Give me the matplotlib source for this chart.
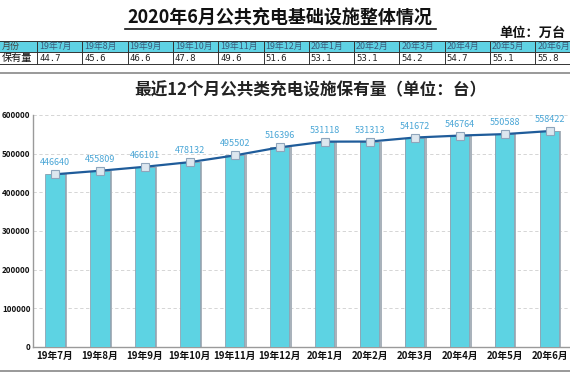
import matplotlib
matplotlib.use("Agg")
import matplotlib.pyplot as plt
from matplotlib.patches import Rectangle
from matplotlib.lines import Line2D

plt.rcParams['font.family'] = ['Noto Sans CJK SC', 'DejaVu Sans']

months = ["19年7月", "19年8月", "19年9月", "19年10月", "19年11月", "19年12月",
          "20年1月", "20年2月", "20年3月", "20年4月", "20年5月", "20年6月"]
table_values = ["44.7", "45.6", "46.6", "47.8", "49.6", "51.6",
                "53.1", "53.1", "54.2", "54.7", "55.1", "55.8"]
counts = [446640, 455809, 466101, 478132, 495502, 516396,
          531118, 531313, 541672, 546764, 550588, 558422]
yticks = [0, 100000, 200000, 300000, 400000, 500000, 600000]

W, H = 570, 380
fig = plt.figure(figsize=(W / 100, H / 100), dpi=100)
fig.patch.set_facecolor('white')


def fx(px):
    return px / W


def fy(py):
    return 1 - py / H


# Main title
fig.text(fx(280), fy(18), "2020年6月公共充电基础设施整体情况", ha='center', va='center',
         fontsize=13, fontweight='bold', color='#111111')
fig.add_artist(Line2D([fx(125), fx(436)], [fy(29), fy(29)], color='#111111', lw=1.2))
fig.text(fx(566), fy(33), "单位：万台", ha='right', va='center', fontsize=9.5,
         fontweight='bold', color='#111111')

# Table
col_x0 = 37
col_w = 45.3
hdr_top, hdr_bot, val_bot = 41, 52, 64
fig.add_artist(Rectangle((fx(-5), fy(hdr_bot)), fx(W + 10), (hdr_bot - hdr_top) / H,
                         facecolor='#5fd2e4', edgecolor='none'))
for yy in (hdr_top, hdr_bot, val_bot):
    fig.add_artist(Line2D([0, 1], [fy(yy), fy(yy)], color='#333333', lw=0.7))
for i in range(13):
    xx = col_x0 + i * col_w
    fig.add_artist(Line2D([fx(xx), fx(xx)], [fy(hdr_top), fy(val_bot)], color='#333333', lw=0.7))
fig.text(fx(2), fy((hdr_top + hdr_bot) / 2), "月份", ha='left', va='center',
         fontsize=6.5, color='#444444')
fig.text(fx(2), fy((hdr_bot + val_bot) / 2), "保有量", ha='left', va='center',
         fontsize=7.3, color='#111111')
for i, (m, v) in enumerate(zip(months, table_values)):
    xx = col_x0 + i * col_w + 2
    fig.text(fx(xx), fy((hdr_top + hdr_bot) / 2), m, ha='left', va='center',
             fontsize=6.4, color='#3a5a7a')
    fig.text(fx(xx), fy((hdr_bot + val_bot) / 2 + 0.5), v, ha='left', va='center',
             fontsize=6.5, color='#222222', family=['DejaVu Sans Mono'])

# separator lines
fig.add_artist(Line2D([0, 1], [fy(73), fy(73)], color='#888888', lw=1.2))
fig.add_artist(Line2D([0, 1], [fy(371), fy(371)], color='#888888', lw=1.2))

# Chart title
fig.text(fx(310), fy(90), "最近12个月公共类充电设施保有量（单位：台）", ha='center', va='center',
         fontsize=12, fontweight='bold', color='#222222')

# Chart axes
left_px, right_px = 32.5, 572
top_px, bot_px = 115, 347
ax = fig.add_axes([fx(left_px), fy(bot_px), (right_px - left_px) / W, (bot_px - top_px) / H])
ax.set_facecolor('white')
x = list(range(len(months)))
ax.bar([xi + 0.03 for xi in x], counts, width=0.47, color='#a9b2bb', zorder=2)
ax.bar(x, counts, width=0.43, color='#5dd3e3', edgecolor='#8fa3b3', linewidth=0.6, zorder=3)
ax.plot(x, counts, color='#1f5c9a', lw=1.6, zorder=4)
ax.plot(x, counts, ls='none', marker='s', ms=6, mfc='#dde7ef', mec='#8fa5bb', mew=0.8, zorder=5)
for xi, c in zip(x, counts):
    ax.annotate(str(c), (xi, c), xytext=(0, 5), textcoords='offset points', ha='center',
                va='bottom', fontsize=6.5, color='#4aa6d6', zorder=6)

ax.set_xlim(-0.5, 11.5)
ax.set_ylim(0, 600000)
ax.set_yticks(yticks)
ax.set_yticklabels([str(v) for v in yticks], fontsize=5.8, fontweight='bold', color='#111111')
ax.set_xticks(x)
ax.set_xticklabels(months, fontsize=7, fontweight='bold', color='#111111')
ax.tick_params(axis='both', length=0, pad=3)
ax.tick_params(axis='y', pad=1.5)
ax.grid(axis='y', color='#cfcfcf', ls=(0, (4, 3)), lw=0.6, zorder=0)
ax.set_axisbelow(True)
for s in ('top', 'right'):
    ax.spines[s].set_visible(False)
for s in ('left', 'bottom'):
    ax.spines[s].set_color('#9a9a9a')
    ax.spines[s].set_linewidth(1.0)

fig.savefig("out.png", dpi=100, facecolor='white')
